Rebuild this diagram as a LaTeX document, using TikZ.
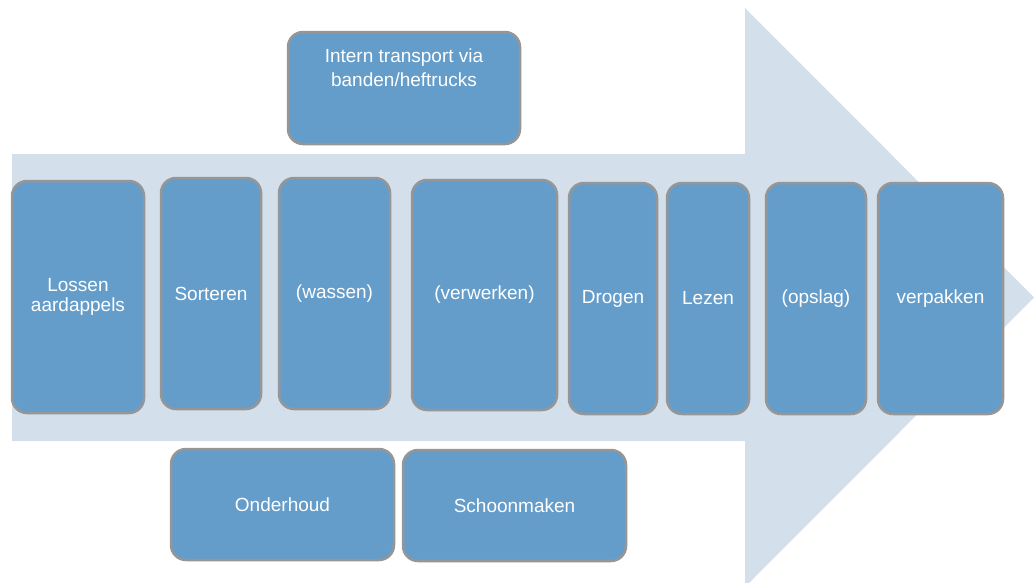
\documentclass[tikz,border=0pt]{standalone}
\usepackage{fontspec}
\setmainfont{Liberation Sans}
\definecolor{boxblue}{RGB}{101,157,202}
\definecolor{boxedge}{RGB}{150,150,150}
\definecolor{arrowfill}{RGB}{211,223,235}
\tikzset{
  pbox/.style={draw=boxedge, fill=boxblue, line width=2.5pt, rounded corners=15pt, inner sep=2pt},
  txt/.style={text=white, font=\fontsize{19}{23}\selectfont, align=center},
}
\begin{document}
\begin{tikzpicture}[x=1pt,y=-1pt]
\useasboundingbox (0,0) rectangle (1034,582);
\clip (0,0) rectangle (1034,582);
\fill[arrowfill] (12,154) -- (745,154) -- (745,8) -- (1034,297.5) -- (745,587) -- (745,441) -- (12,441) -- cycle;

\node[pbox, minimum width=232pt, minimum height=112pt] (transport) at (404,88) {};
\node[txt, anchor=north, font=\fontsize{19}{24}\selectfont] (transporttext) at (404,45) {Intern transport via\\banden/heftrucks};

\node[pbox, txt, font=\fontsize{19}{20}\selectfont, minimum width=132pt, minimum height=232pt] (lossen) at (78,297) {Lossen\\aardappels};
\node[pbox, txt, minimum width=100pt, minimum height=231pt] (sorteren) at (211,293.5) {Sorteren};
\node[pbox, txt, minimum width=111pt, minimum height=231pt] (wassen) at (334.5,293.5) {(wassen)};
\node[pbox, txt, minimum width=145pt, minimum height=230pt] (verwerken) at (484.5,295) {(verwerken)};
\node[pbox, txt, minimum width=88pt, minimum height=231pt] (drogen) at (613,298.5) {Drogen};
\node[pbox, txt, minimum width=82pt, minimum height=231pt] (lezen) at (708,298.5) {Lezen};
\node[pbox, txt, minimum width=100pt, minimum height=231pt] (opslag) at (816,298.5) {(opslag)};
\node[pbox, txt, minimum width=125pt, minimum height=231pt] (verpakken) at (940.5,298.5) {verpakken};

\node[pbox, txt, minimum width=223pt, minimum height=111pt] (onderhoud) at (282.5,504.5) {Onderhoud};
\node[pbox, txt, minimum width=223pt, minimum height=111pt] (schoonmaken) at (514.5,505.5) {Schoonmaken};
\end{tikzpicture}
\end{document}
